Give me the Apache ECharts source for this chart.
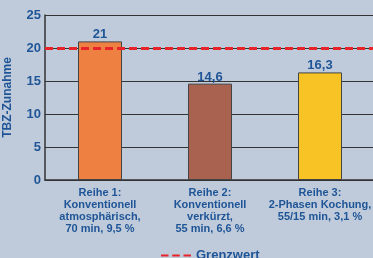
<!DOCTYPE html>
<html><head><meta charset="utf-8">
<script src="https://cdn.jsdelivr.net/npm/echarts@6/dist/echarts.min.js"></script>
<style>html,body{margin:0;padding:0;background:#BFCBDA}#c{width:373px;height:258px}</style>
</head><body><div id="c"></div>
<script>
const categories = ['Reihe 1:\nKonventionell\natmosphärisch,\n70 min, 9,5 %','Reihe 2:\nKonventionell\nverkürzt,\n55 min, 6,6 %','Reihe 3:\n2-Phasen Kochung,\n55/15 min, 3,1 %'];
const values = [21, 14.6, 16.3];
const barColors = ['#EE8042','#A8624F','#F7C325'];
const limitValue = 20;
const yTicks = [0,5,10,15,20,25];
const blue = '#1F5597';
const chart = echarts.init(document.getElementById('c'));
chart.setOption({
  backgroundColor:'#BFCBDA',
  animation:false,
  grid:{left:45,top:15,width:330,height:165,containLabel:false,outerBoundsMode:'none'},
  legend:{
    data:[{name:'Grenzwert',icon:'path://M0,0H8V2H0Z M12,0H20V2H12Z M24,0H32V2H24Z'}],
    left:156,top:244,itemWidth:30,itemHeight:3,itemGap:3,
    textStyle:{color:blue,fontWeight:'bold',fontSize:13,fontFamily:'Liberation Sans'}
  },
  xAxis:{type:'category',data:categories,
    axisLine:{lineStyle:{color:'#333',width:1.5}},axisTick:{show:false},
    axisLabel:{color:blue,fontWeight:'bold',fontSize:11,fontFamily:'Liberation Sans',lineHeight:12,margin:7,interval:0}},
  yAxis:{type:'value',min:0,max:25,interval:5,
    name:'TBZ-Zunahme',nameLocation:'middle',nameGap:31,nameRotate:90,
    nameTextStyle:{color:blue,fontWeight:'bold',fontSize:12,fontFamily:'Liberation Sans'},
    axisLine:{show:true,lineStyle:{color:'#333',width:1.5}},axisTick:{show:false},
    splitLine:{lineStyle:{color:'#333',width:1}},
    axisLabel:{color:blue,fontWeight:'bold',fontSize:13,fontFamily:'Liberation Sans',margin:4,
      formatter:v=>yTicks.includes(v)?String(v):''}},
  series:[
    {type:'bar',data:values.map((v,i)=>({value:v,itemStyle:{color:barColors[i]}})),
     barWidth:44,itemStyle:{borderColor:'#444',borderWidth:1},
     label:{show:true,position:'top',distance:0,color:blue,fontWeight:'bold',fontSize:13,fontFamily:'Liberation Sans',
       formatter:p=>String(p.value).replace('.',',')}},
    {type:'line',name:'Grenzwert',data:[],color:'#E8232A',
     markLine:{silent:true,symbol:'none',label:{show:false},
       lineStyle:{color:'#E8232A',type:[8,4],width:3},
       data:[{yAxis:limitValue}]}}
  ]
});
</script></body></html>
